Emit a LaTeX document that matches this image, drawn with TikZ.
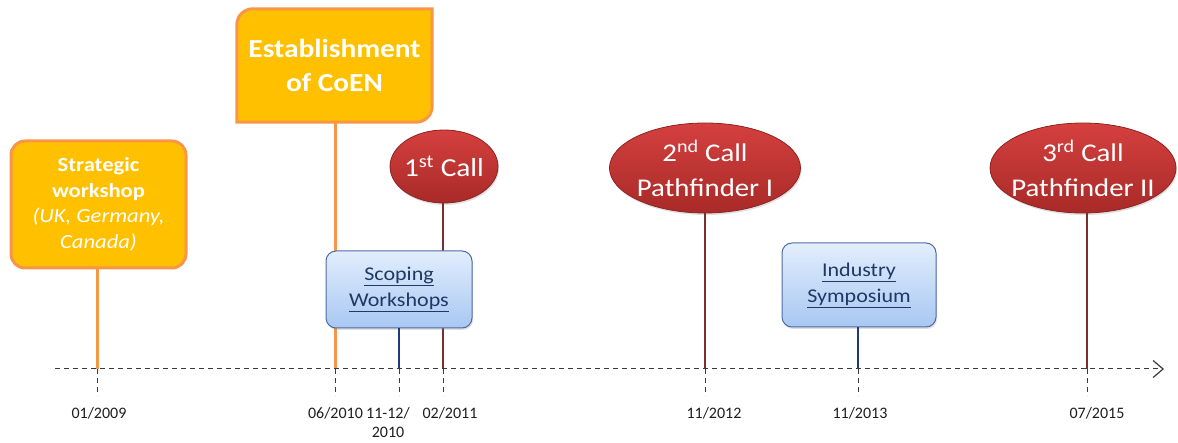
\documentclass[tikz,border=0pt]{standalone}
\usepackage{fontspec}
\setmainfont{Carlito}
\newfontfamily\widefont[FakeStretch=1.13]{Carlito}
\usetikzlibrary{arrows.meta,shadows,shapes.geometric}
\definecolor{gold}{HTML}{FFC000}
\definecolor{orangeline}{HTML}{F79646}
\definecolor{redtop}{HTML}{D4403E}
\definecolor{redbot}{HTML}{A82A28}
\definecolor{redborder}{HTML}{8E2422}
\definecolor{callline}{HTML}{7A2E2E}
\definecolor{bluetop}{HTML}{E2EEFD}
\definecolor{bluebot}{HTML}{A8C7F2}
\definecolor{blueborder}{HTML}{4F6BA3}
\definecolor{navytext}{HTML}{1F3864}
\definecolor{navycol}{HTML}{1F3A7A}
\definecolor{axisgray}{HTML}{3A3A3A}
\definecolor{datetext}{HTML}{1E1E1E}
\begin{document}
\begin{tikzpicture}[x=1pt,y=-1pt,
  goldbox/.style={draw=orangeline,line width=3pt,fill=gold,rounded corners=14pt,text=white,align=center,inner sep=0pt},
  callnode/.style={ellipse,draw=redborder,line width=0.8pt,top color=redtop,bottom color=redbot,text=white,align=center,inner sep=0pt,drop shadow={opacity=0.25,shadow xshift=1pt,shadow yshift=-2pt}},
  calltext/.style={text=white,align=center,inner sep=0pt},
  bluebox/.style={draw=blueborder,line width=1pt,top color=bluetop,bottom color=bluebot,rounded corners=10pt,text=navytext,align=center,inner sep=0pt,drop shadow={opacity=0.25,shadow xshift=1pt,shadow yshift=-2pt},font=\widefont\fontsize{19.5}{26}\selectfont},
  goldconn/.style={draw=orangeline,line width=3pt},
  redconn/.style={draw=callline,line width=2pt},
  navyconn/.style={draw=navycol,line width=2.5pt},
  axisline/.style={draw=axisgray,line width=1pt,dash pattern=on 5pt off 4pt},
  datelabel/.style={text=datetext,font=\fontsize{16}{19}\selectfont,inner sep=0pt,anchor=north,align=center}
]
\useasboundingbox (0,0) rectangle (1178,443);

% axis coordinates
\coordinate (ax0) at (55,369);
\coordinate (ax1) at (1164,369);
\coordinate (a1) at (97.5,369);
\coordinate (a2) at (335,369);
\coordinate (a3) at (399,369);
\coordinate (a4) at (443,369);
\coordinate (a5) at (705,369);
\coordinate (a6) at (858,369);
\coordinate (a7) at (1087,369);
\coordinate (b1) at (97.5,396);
\coordinate (b2) at (335,396);
\coordinate (b3) at (399,396);
\coordinate (b4) at (443,396);
\coordinate (b5) at (705,396);
\coordinate (b6) at (858,396);
\coordinate (b7) at (1087,396);

% nodes (placement)
\node[goldbox,minimum width=175pt,minimum height=127pt,font=\widefont\fontsize{20}{25.5}\selectfont] (sw) at (98.5,204.5)
  {\textbf{Strategic}\\\textbf{workshop}\\\textit{(UK, Germany,}\\\textit{Canada)}};
\node[inner sep=0pt,minimum width=195pt,minimum height=113pt] (coen) at (334.5,65.5) {};
\node[callnode,minimum width=108pt,minimum height=73pt] (c1) at (444,166.5) {};
\node[callnode,minimum width=191pt,minimum height=90pt] (c2) at (705,168) {};
\node[callnode,minimum width=186pt,minimum height=90pt] (c3) at (1083,168) {};

% connector lines
\draw[goldconn] (sw.south -| a1) -- (a1);
\draw[goldconn] (coen.south -| a2) -- (a2);
\draw[redconn] (c1.south -| a4) -- (a4);
\draw[redconn] (c2.south -| a5) -- (a5);
\draw[redconn] (c3.south -| a7) -- (a7);

% Establishment box shape
\draw[orangeline,line width=3pt,fill=gold]
  (coen.south west) [rounded corners=16pt] -- (coen.north west) [sharp corners] -- (coen.north east)
  [rounded corners=16pt] -- (coen.south east) [sharp corners] -- cycle;
\node[text=white,align=center,inner sep=0pt,font=\widefont\fontsize{26}{34}\selectfont\bfseries] (coentext) at (coen.center) {Establishment\\of CoEN};

% texts of calls
\node[calltext,font=\widefont\fontsize{26}{34}\selectfont] (c1text) at (c1.center) {1\textsuperscript{st} Call};
\node[calltext,font=\widefont\fontsize{25.5}{35}\selectfont] (c2text) at (c2.center) {2\textsuperscript{nd} Call\\Pathfinder I};
\node[calltext,font=\widefont\fontsize{25.5}{35}\selectfont] (c3text) at (c3.center) {3\textsuperscript{rd} Call\\Pathfinder II};

% blue boxes
\node[bluebox,minimum width=146pt,minimum height=77pt] (scop) at (399,289.5)
  {\underline{Scoping}\\\underline{Workshops}};
\node[bluebox,minimum width=154pt,minimum height=84pt] (ind) at (859,285)
  {\underline{Industry}\\\underline{Symposium}};
\draw[navyconn] (scop.south -| a3) -- (a3);
\draw[navyconn] (ind.south -| a6) -- (a6);

% axis
\draw[axisline,-{Straight Barb[length=10pt,width=17pt,line width=1.2pt]}] (ax0) -- (ax1);
\foreach \i in {1,...,7} \draw[axisline] (a\i) -- (b\i);

% date labels
\node[datelabel] (d1) at (99,407) {01/2009};
\node[datelabel] (d2) at (335.5,407) {06/2010};
\node[datelabel] (d3) at (388,407) {11-12/\\2010};
\node[datelabel] (d4) at (450,407) {02/2011};
\node[datelabel] (d5) at (714,407) {11/2012};
\node[datelabel] (d6) at (860,407) {11/2013};
\node[datelabel] (d7) at (1097,407) {07/2015};
\end{tikzpicture}
\end{document}
